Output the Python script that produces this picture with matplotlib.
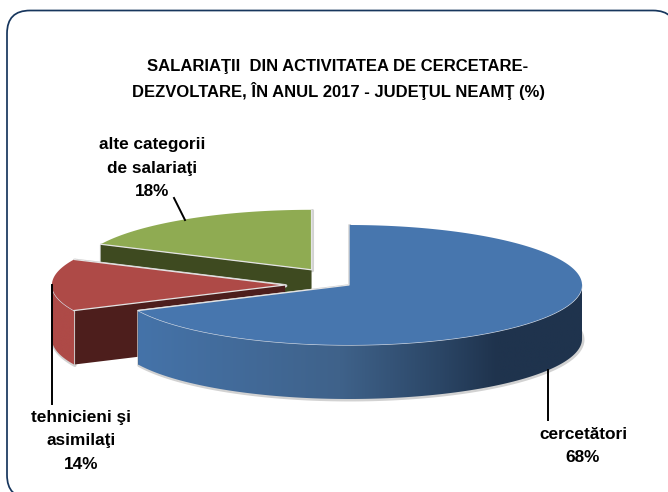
import numpy as np
import matplotlib
matplotlib.use("Agg")
import matplotlib.pyplot as plt
from matplotlib.patches import FancyBboxPatch, Polygon
from matplotlib.colors import LinearSegmentedColormap

plt.rcParams['font.family'] = ['Liberation Sans', 'DejaVu Sans']

title_lines = ["SALARIAŢII  DIN ACTIVITATEA DE CERCETARE-", "DEZVOLTARE, ÎN ANUL 2017 - JUDEŢUL NEAMŢ (%)"]
categories = ["cercetători", "tehnicieni şi\nasimilaţi", "alte categorii\nde salariaţi"]
values = [68, 14, 18]
explode = [0.0, 0.275, 0.30]
top_colors = ["#4776AE", "#AE4A47", "#8FAB52"]
side_colors = ["#1F334D", "#4D1E1C", "#3E4A20"]

W, H = 668, 492
CX, CY, RX, RY, DEPTH = 349, 285, 233, 60, 54

fig = plt.figure(figsize=(W / 100, H / 100), dpi=100)
ax = fig.add_axes([0, 0, 1, 1])
ax.axis("off")

R = 23
ax.add_patch(FancyBboxPatch((7 + R, 10.5 + R), 669 - 2 * R, 487.5 - 2 * R,
                            boxstyle=f"round,pad={R},rounding_size={R}",
                            fc="white", ec="#17365D", lw=1.25, zorder=0))


def pt(t, cx, cy):
    return cx + RX * np.sin(t), cy - RY * np.cos(t)


edges = np.radians(np.concatenate([[0], np.cumsum(values)]) * 3.6)
centers = []
for i in range(3):
    mid = (edges[i] + edges[i + 1]) / 2
    centers.append((CX + explode[i] * RX * np.sin(mid), CY - explode[i] * RY * np.cos(mid)))

wall_maps = [
    LinearSegmentedColormap.from_list("w0", [(0, "#4573A9"), (0.455, "#3F628A"), (0.68, "#2B4666"), (0.81, "#1F334D"), (1, "#1F334D")]),
    LinearSegmentedColormap.from_list("w1", ["#AE4A47", "#AE4A47"]),
    LinearSegmentedColormap.from_list("w2", ["#3E4A20", "#3E4A20"]),
]

z = 2
for i in (2, 1, 0):
    t0, t1 = edges[i], edges[i + 1]
    cx, cy = centers[i]
    ts = np.linspace(t0, t1, 300)
    xs, ys = pt(ts, cx, cy)
    front = np.cos(ts) <= 0
    fx, fy = xs[front], ys[front]

    # soft shadow: a pale halo round the lower outline of the solid
    sil = [(cx, cy), (xs[0], ys[0]), (xs[0], ys[0] + DEPTH)] + list(zip(xs, ys + DEPTH)) + [(xs[-1], ys[-1] + DEPTH), (xs[-1], ys[-1]), (cx, cy)]
    sil_arr = np.array(sil) + np.array([0.8, 0.8])
    ax.add_patch(Polygon(sil_arr, closed=True, fc="#D2D2D2", ec="#D2D2D2", lw=2.4, zorder=z, joinstyle="round"))
    z += 1

    # cut faces
    for t in (t0, t1):
        ex, ey = pt(t, cx, cy)
        ax.add_patch(Polygon([(cx, cy), (ex, ey), (ex, ey + DEPTH), (cx, cy + DEPTH)], closed=True,
                             fc=side_colors[i], ec="none", zorder=z))
        if i == 1:
            ax.plot([ex, ex], [ey, ey + DEPTH], color="#CFCFCF", lw=0.8, zorder=z + 0.6)
    z += 1

    # outer wall
    if front.any():
        verts = list(zip(fx, fy)) + list(zip(fx[::-1], fy[::-1] + DEPTH))
        wall = Polygon(verts, closed=True, fc="none", ec="none", zorder=z)
        ax.add_patch(wall)
        g = np.linspace(0, 1, 256).reshape(1, -1)
        im = ax.imshow(g, extent=[fx.min(), fx.max(), fy.max() + DEPTH, fy.min()],
                       cmap=wall_maps[i], aspect="auto", zorder=z)
        im.set_clip_path(wall)
        ax.plot(fx, fy, color="#D8DEE8", lw=0.9, zorder=z + 0.5)
    z += 1

    # top face
    ax.add_patch(Polygon([(cx, cy)] + list(zip(xs, ys)), closed=True, fc=top_colors[i], ec="none", zorder=z))
    ax.plot([xs[0], cx, xs[-1]], [ys[0], cy, ys[-1]], color="#E4E4E4", lw=0.9, zorder=z + 0.5)
    z += 1

ax.set_xlim(0, W)
ax.set_ylim(H, 0)

# leader lines
ax.plot([185, 174], [220, 198], color="black", lw=1.4, zorder=30)
ax.plot([51.5, 51.5], [285, 404], color="black", lw=1.4, zorder=30)
ax.plot([548, 548], [370, 420], color="black", lw=1.4, zorder=30)

for line, y in zip(title_lines, (71, 97)):
    ax.text(338, y, line, ha="center", va="baseline", fontsize=12, fontweight="bold", zorder=40)

lab = dict(ha="center", va="center", fontsize=12.4, fontweight="bold", linespacing=1.7, zorder=40)
ax.text(152, 168, f"{categories[2]}\n{values[2]}%", **lab)
ax.text(81, 441, f"{categories[1]}\n{values[1]}%", **lab)
ax.text(583, 446, f"{categories[0]}\n{values[0]}%", **lab)

fig.savefig("out.png", dpi=100)
